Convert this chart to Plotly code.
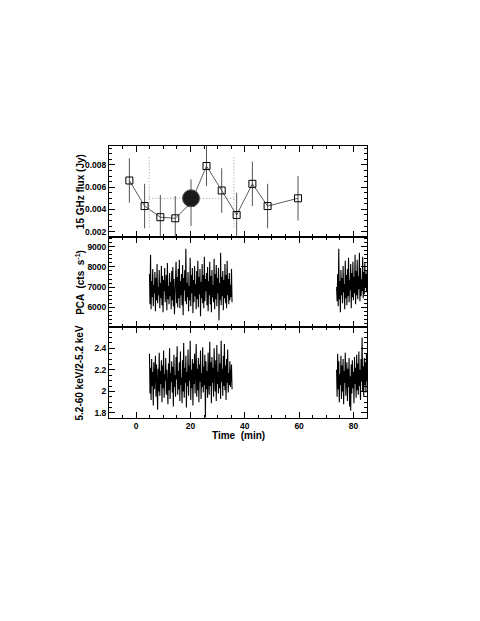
import plotly.graph_objects as go
from plotly.subplots import make_subplots

# 15 GHz radio points (time in min, flux in Jy)
radio_time = [-2.5, 3.1, 8.9, 14.4, 20.2, 25.9, 31.5, 37.0, 42.8, 48.4, 59.6]
radio_flux = [0.0066, 0.0043, 0.0033, 0.0032, 0.0046, 0.0079, 0.0057, 0.0035, 0.0063, 0.0043, 0.0050]
radio_err = [0.0020, 0.0020, 0.0020, 0.0020, 0.0021, 0.0018, 0.0020, 0.0020, 0.0020, 0.0020, 0.0020]

# averaged flux over the window, and the window itself
mean_time = [20.2]
mean_flux = [0.0050]
window_start = 4.8
window_end = 36.0
window_lo = 0.0024
window_hi = 0.0087

# PCA light curve segments (start time, bin width in min)
seg1_start, seg2_start, bin_min = 4.9, 73.8, 0.2

pca_seg1 = [
    7650, 6150, 8600, 5900, 7300, 6500, 7900, 6050, 7100, 6700,
    7750, 5800, 7450, 6350, 8150, 6200, 7000, 6600, 7850, 5950,
    7200, 6450, 8050, 6100, 7550, 5750, 7350, 6800, 7950, 6250,
    6900, 7600, 5850, 8200, 6400, 7050, 6150, 7700, 6550, 7250,
    5900, 7800, 6350, 8000, 6050, 7400, 5650, 7150, 6750, 8250,
    6200, 7500, 6000, 7900, 6450, 8350, 5950, 7300, 6600, 7650,
    6100, 8100, 5600, 7450, 6850, 7850, 6300, 8900, 6150, 7200,
    6500, 7750, 5800, 7050, 6350, 8450, 6050, 7600, 6700, 7950,
    5700, 7350, 6250, 8050, 6550, 7150, 5900, 7800, 6400, 8300,
    6000, 7500, 6650, 7900, 5550, 7250, 6450, 8150, 6200, 7600,
    5950, 8500, 6300, 7400, 6800, 7700, 6100, 8000, 5800, 7300,
    6600, 8250, 6150, 7550, 5750, 7850, 6500, 7100, 6250, 8400,
    5900, 7650, 6400, 8100, 6050, 7450, 6700, 7950, 5350, 7200,
    6350, 8700, 6100, 7500, 6550, 7800, 5850, 7350, 6450, 8150,
    6200, 7600, 5950, 8300, 6600, 7400, 6150, 7700, 6350, 7100,
    6500, 7900, 6250,
]
pca_seg2 = [
    7000, 6300, 7650, 6050, 8900, 6400, 7300, 5750, 7850, 6600,
    7450, 6200, 8050, 6750, 7150, 5900, 8300, 6450, 7600, 6100,
    7900, 6550, 8450, 6250, 7350, 6850, 8150, 5950, 7700, 6500,
    8250, 6350, 7500, 6700, 8600, 6150, 7800, 6600, 8350, 6400,
    7550, 6900, 8700, 6300, 7950, 6550, 7400, 6800, 8500, 6450,
    7750, 6650, 8200, 6950, 7600, 6750, 7850,
]

# hardness ratio 5.2-60 keV / 2-5.2 keV
hr_seg1 = [
    2.35, 1.98, 2.22, 1.92, 2.30, 2.05, 2.18, 1.87, 2.27, 2.02,
    2.14, 2.33, 1.95, 2.25, 2.08, 1.83, 2.21, 2.00, 2.36, 1.96,
    2.19, 2.07, 2.29, 1.90, 2.24, 2.03, 2.38, 1.94, 2.16, 2.10,
    2.31, 1.97, 2.20, 2.06, 1.88, 2.26, 2.01, 2.40, 1.93, 2.17,
    2.09, 2.28, 1.99, 2.23, 1.86, 2.34, 2.04, 2.15, 1.95, 2.32,
    2.11, 2.42, 1.97, 2.19, 2.02, 2.27, 1.91, 2.37, 2.06, 2.13,
    1.89, 2.29, 2.00, 2.45, 1.94, 2.22, 2.08, 2.33, 1.85, 2.18,
    2.05, 2.39, 1.96, 2.24, 2.10, 2.47, 1.92, 2.20, 2.03, 2.30,
    1.87, 2.26, 2.07, 2.35, 1.98, 2.16, 2.44, 1.95, 2.21, 2.01,
    2.31, 1.90, 2.25, 2.09, 2.38, 1.93, 2.17, 2.04, 2.41, 1.99,
    2.23, 2.06, 2.34, 1.76, 2.28, 2.02, 2.19, 1.94, 2.36, 2.11,
    1.97, 2.46, 2.05, 2.27, 1.89, 2.32, 2.08, 2.22, 1.95, 2.40,
    2.13, 2.00, 2.29, 1.91, 2.43, 2.07, 2.18, 1.98, 2.35, 2.03,
    2.26, 1.93, 2.47, 2.09, 2.21, 1.96, 2.33, 2.05, 2.44, 2.01,
    2.24, 1.92, 2.30, 2.08, 2.39, 1.99, 2.17, 2.06, 2.28, 2.04,
    2.12, 2.25, 2.02,
]
hr_seg2 = [
    2.20, 1.95, 2.35, 2.02, 2.28, 1.90, 2.16, 2.06, 2.33, 1.93,
    2.24, 2.00, 2.30, 1.88, 2.19, 2.08, 2.36, 1.96, 2.12, 2.27,
    1.91, 2.21, 2.04, 2.31, 1.86, 2.14, 1.82, 2.25, 1.98, 2.29,
    2.03, 2.18, 1.89, 2.32, 2.07, 2.22, 1.94, 2.34, 2.01, 2.26,
    1.97, 2.37, 2.05, 2.20, 1.92, 2.30, 2.09, 2.50, 2.00, 2.23,
    1.95, 2.31, 2.06, 2.27, 1.99, 2.35, 2.10,
]

panel_titles = ["15 GHz flux (Jy)", "PCA  (cts  s<sup>-1</sup>)", "5.2-60 keV/2-5.2 keV"]
x_title = "Time  (min)"

FONT = "Liberation Sans"

fig = make_subplots(rows=3, cols=1, shared_xaxes=True, vertical_spacing=0)

# dotted window guides
dot = dict(color="#a0a0a0", width=1, dash="1px,2px")
for t in (window_start, window_end):
    fig.add_trace(go.Scatter(x=[t, t], y=[window_lo, window_hi], mode="lines",
                             line=dot, hoverinfo="skip"), row=1, col=1)
fig.add_trace(go.Scatter(x=[window_start, window_end], y=[mean_flux[0], mean_flux[0]],
                         mode="lines", line=dot, hoverinfo="skip"), row=1, col=1)

fig.add_trace(go.Scatter(
    x=radio_time, y=radio_flux, mode="lines+markers",
    line=dict(color="#333333", width=0.8),
    marker=dict(symbol="square-open", size=7, color="black", line=dict(width=1)),
    error_y=dict(type="data", array=radio_err, color="#555555", thickness=1, width=0),
), row=1, col=1)

fig.add_trace(go.Scatter(
    x=mean_time, y=mean_flux, mode="markers",
    marker=dict(symbol="circle", size=17, color="#1a1a1a", line=dict(color="#555555", width=1)),
), row=1, col=1)

lc = dict(color="black", width=1.1)
fig.add_trace(go.Scatter(y=pca_seg1, x0=seg1_start, dx=bin_min, mode="lines", line=lc), row=2, col=1)
fig.add_trace(go.Scatter(y=pca_seg2, x0=seg2_start, dx=bin_min, mode="lines", line=lc), row=2, col=1)
fig.add_trace(go.Scatter(y=hr_seg1, x0=seg1_start, dx=bin_min, mode="lines", line=lc), row=3, col=1)
fig.add_trace(go.Scatter(y=hr_seg2, x0=seg2_start, dx=bin_min, mode="lines", line=lc), row=3, col=1)

axis_style = dict(
    showline=True, linecolor="black", linewidth=1, mirror="ticks",
    ticks="inside", ticklen=6, tickwidth=1, tickcolor="black",
    showgrid=False, zeroline=False, automargin=False,
    tickfont=dict(family=FONT, size=8.5, color="black", weight="bold"),
)
minor_style = dict(ticks="inside", ticklen=3, tickcolor="black")
title_font = dict(family=FONT, size=10, color="black", weight="bold")

fig.update_xaxes(range=[-10, 85], dtick=20, tick0=0,
                 minor=dict(dtick=5, **minor_style), **axis_style)

fig.update_yaxes(range=[0.00155, 0.0097], dtick=0.002, tick0=0, tickformat=".3f",
                 minor=dict(dtick=0.0005, **minor_style), row=1, col=1, **axis_style)
fig.update_yaxes(range=[5005, 9500], dtick=1000, tick0=0,
                 minor=dict(dtick=200, **minor_style), row=2, col=1, **axis_style)
fig.update_yaxes(range=[1.753, 2.595], dtick=0.2, tick0=0,
                 minor=dict(dtick=0.05, **minor_style), row=3, col=1, **axis_style)

# axis titles placed as annotations, close to the tick labels like the original
for i, text in enumerate(panel_titles):
    yc = 1 - (i + 0.5) / 3
    fig.add_annotation(text=text, xref="paper", yref="paper", x=-0.113, y=yc,
                       xanchor="center", yanchor="middle", textangle=-90,
                       showarrow=False, font=title_font)
fig.add_annotation(text=x_title, xref="paper", yref="paper", x=0.5, y=-0.066,
                   xanchor="center", yanchor="middle", showarrow=False, font=title_font)

# page body adds an 8 px offset, margins account for it
fig.update_layout(
    width=480, height=621,
    margin=dict(l=101, r=121, t=138, b=211),
    paper_bgcolor="white", plot_bgcolor="white",
    showlegend=False,
    font=dict(family=FONT, color="black"),
)

fig.write_html("out.html")
